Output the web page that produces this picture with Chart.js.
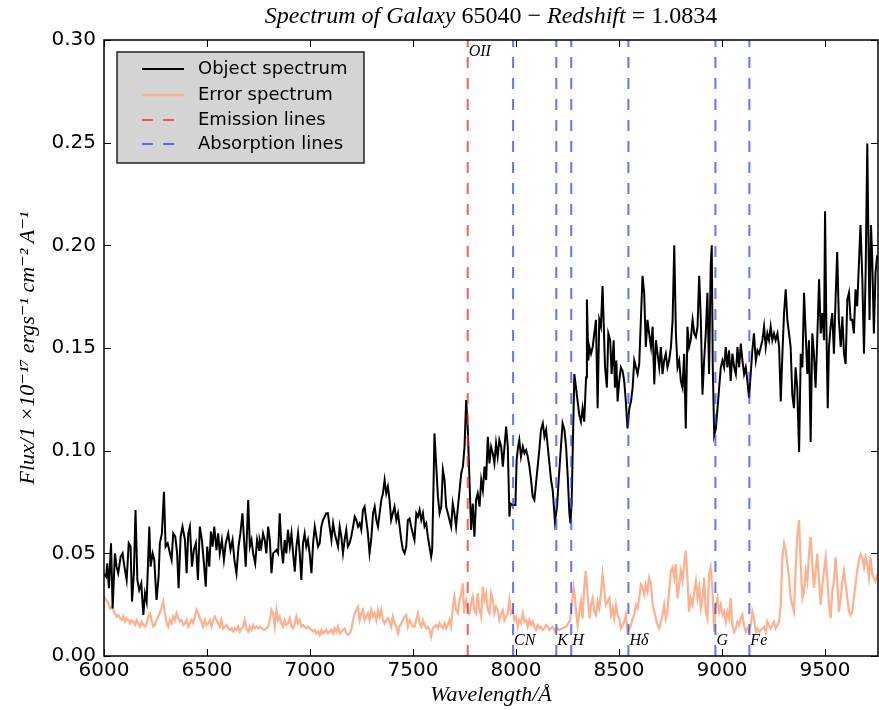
<!DOCTYPE html>
<html lang="en">
<head>
    <meta charset="UTF-8">
    <title>Spectrum of Galaxy 65040</title>
    <script src="https://cdn.jsdelivr.net/npm/chart.js"></script>
    <style>
        html, body { margin: 0; padding: 0; background: #fff; }
        canvas { display: block; }
    </style>
</head>
<body>
    <canvas id="spectrumChart" width="879" height="710"></canvas>

    <script>
        // object spectrum (wavelength in Angstrom, flux in 1e-17 erg/s/cm2/A)
        const objWave = [
            6000, 6010, 6016, 6024, 6034, 6042, 6053, 6061, 6069, 6081,
            6090, 6099, 6110, 6120, 6129, 6136, 6145, 6153, 6162, 6171,
            6181, 6191, 6199, 6207, 6220, 6226, 6236, 6244, 6255, 6265,
            6271, 6281, 6291, 6299, 6309, 6320, 6328, 6336, 6346, 6355,
            6362, 6372, 6381, 6393, 6401, 6409, 6417, 6427, 6436, 6446,
            6456, 6465, 6475, 6485, 6494, 6501, 6511, 6519, 6527, 6535,
            6546, 6554, 6562, 6572, 6582, 6591, 6603, 6614, 6624, 6633,
            6643, 6653, 6662, 6672, 6679, 6688, 6700, 6708, 6716, 6724,
            6734, 6743, 6753, 6756, 6764, 6772, 6780, 6788, 6797, 6805,
            6813, 6821, 6829, 6837, 6845, 6853, 6861, 6869, 6877, 6885,
            6893, 6902, 6910, 6918, 6926, 6934, 6942, 6950, 6958, 6966,
            6974, 6982, 6990, 6998, 7007, 7015, 7023, 7031, 7039, 7047,
            7055, 7063, 7071, 7079, 7087, 7095, 7104, 7112, 7120, 7128,
            7136, 7144, 7152, 7160, 7168, 7176, 7184, 7192, 7200, 7209,
            7217, 7225, 7233, 7241, 7249, 7257, 7265, 7273, 7281, 7289,
            7297, 7306, 7314, 7322, 7330, 7338, 7346, 7354, 7362, 7370,
            7378, 7386, 7394, 7402, 7410, 7419, 7427, 7435, 7443, 7451,
            7459, 7467, 7475, 7483, 7491, 7499, 7507, 7516, 7524, 7532,
            7540, 7548, 7556, 7564, 7572, 7580, 7588, 7593, 7600, 7604,
            7612, 7621, 7629, 7637, 7645, 7653, 7661, 7669, 7677, 7685,
            7693, 7701, 7709, 7718, 7726, 7734, 7742, 7750, 7758, 7766,
            7774, 7782, 7790, 7798, 7806, 7814, 7823, 7831, 7839, 7847,
            7855, 7863, 7871, 7879, 7887, 7895, 7903, 7911, 7919, 7928,
            7936, 7944, 7952, 7960, 7968, 7973, 7981, 7997, 8003, 8010,
            8016, 8024, 8033, 8041, 8049, 8057, 8065, 8073, 8081, 8089,
            8097, 8105, 8113, 8121, 8130, 8138, 8146, 8154, 8162, 8170,
            8178, 8189, 8199, 8207, 8218, 8226, 8235, 8243, 8251, 8259,
            8264, 8270, 8275, 8283, 8291, 8299, 8307, 8315, 8323, 8331,
            8340, 8344, 8351, 8356, 8364, 8372, 8380, 8388, 8396, 8404,
            8412, 8420, 8425, 8432, 8441, 8448, 8457, 8464, 8474, 8480,
            8487, 8493, 8501, 8509, 8517, 8525, 8533, 8541, 8550, 8558,
            8566, 8574, 8582, 8590, 8598, 8606, 8614, 8622, 8630, 8638,
            8646, 8655, 8663, 8671, 8679, 8687, 8695, 8703, 8711, 8719,
            8727, 8735, 8743, 8752, 8760, 8768, 8776, 8784, 8792, 8800,
            8808, 8816, 8824, 8832, 8840, 8848, 8857, 8865, 8873, 8881,
            8889, 8897, 8905, 8913, 8921, 8929, 8937, 8945, 8950, 8955,
            8962, 8970, 8978, 8986, 8994, 9002, 9010, 9018, 9026, 9034,
            9042, 9050, 9059, 9067, 9075, 9083, 9091, 9099, 9107, 9115,
            9123, 9131, 9139, 9147, 9155, 9164, 9172, 9180, 9188, 9196,
            9204, 9212, 9220, 9228, 9236, 9244, 9252, 9260, 9269, 9277,
            9285, 9293, 9301, 9309, 9317, 9325, 9333, 9341, 9349, 9357,
            9365, 9374, 9382, 9390, 9398, 9406, 9414, 9422, 9430, 9438,
            9446, 9454, 9462, 9471, 9479, 9487, 9495, 9500, 9506, 9513,
            9519, 9527, 9535, 9543, 9551, 9559, 9567, 9576, 9584, 9592,
            9600, 9608, 9616, 9624, 9632, 9640, 9648, 9656, 9664, 9672,
            9681, 9689, 9697, 9705, 9710, 9716, 9723, 9729, 9737, 9745,
            9753
        ];
        const objFlux = [
            0.0400, 0.0386, 0.0451, 0.0330, 0.0549, 0.0232, 0.0500, 0.0435, 0.0403, 0.0484,
            0.0500, 0.0435, 0.0370, 0.0549, 0.0533, 0.0265, 0.0403, 0.0711, 0.0370, 0.0321,
            0.0354, 0.0200, 0.0305, 0.0265, 0.0630, 0.0435, 0.0500, 0.0468, 0.0273, 0.0386,
            0.0549, 0.0597, 0.0800, 0.0533, 0.0549, 0.0500, 0.0468, 0.0597, 0.0581, 0.0500,
            0.0330, 0.0581, 0.0630, 0.0565, 0.0403, 0.0597, 0.0630, 0.0435, 0.0516, 0.0549,
            0.0370, 0.0630, 0.0565, 0.0451, 0.0338, 0.0533, 0.0435, 0.0606, 0.0533, 0.0630,
            0.0516, 0.0597, 0.0500, 0.0565, 0.0468, 0.0549, 0.0597, 0.0516, 0.0565, 0.0468,
            0.0403, 0.0533, 0.0597, 0.0695, 0.0581, 0.0435, 0.0760, 0.0533, 0.0565, 0.0500,
            0.0451, 0.0565, 0.0516, 0.0565, 0.0533, 0.0597, 0.0565, 0.0500, 0.0630, 0.0565,
            0.0403, 0.0500, 0.0508, 0.0516, 0.0500, 0.0695, 0.0533, 0.0451, 0.0565, 0.0500,
            0.0614, 0.0533, 0.0597, 0.0500, 0.0411, 0.0533, 0.0597, 0.0500, 0.0370, 0.0549,
            0.0597, 0.0533, 0.0565, 0.0500, 0.0403, 0.0549, 0.0630, 0.0581, 0.0533, 0.0549,
            0.0630, 0.0662, 0.0679, 0.0695, 0.0695, 0.0630, 0.0565, 0.0646, 0.0597, 0.0565,
            0.0533, 0.0630, 0.0581, 0.0500, 0.0565, 0.0614, 0.0533, 0.0549, 0.0581, 0.0630,
            0.0679, 0.0662, 0.0630, 0.0646, 0.0614, 0.0711, 0.0727, 0.0662, 0.0597, 0.0500,
            0.0565, 0.0695, 0.0727, 0.0662, 0.0630, 0.0695, 0.0760, 0.0792, 0.0857, 0.0792,
            0.0825, 0.0760, 0.0662, 0.0695, 0.0727, 0.0662, 0.0695, 0.0630, 0.0565, 0.0516,
            0.0500, 0.0533, 0.0662, 0.0670, 0.0630, 0.0597, 0.0565, 0.0695, 0.0679, 0.0711,
            0.0662, 0.0695, 0.0630, 0.0646, 0.0581, 0.0533, 0.0484, 0.0516, 0.0857, 0.1084,
            0.0938, 0.0776, 0.0695, 0.0727, 0.0906, 0.0857, 0.0727, 0.0695, 0.0662, 0.0630,
            0.0743, 0.0695, 0.0630, 0.0727, 0.0808, 0.0890, 0.0922, 0.1019, 0.1247, 0.1101,
            0.0857, 0.0614, 0.0743, 0.0581, 0.0760, 0.0792, 0.0727, 0.0857, 0.0808, 0.0922,
            0.0857, 0.1068, 0.0938, 0.1019, 0.0987, 0.0938, 0.1036, 0.0971, 0.1052, 0.1019,
            0.0922, 0.1019, 0.1117, 0.1019, 0.0679, 0.0743, 0.0735, 0.0735, 0.0954, 0.1019,
            0.1052, 0.0971, 0.1019, 0.0987, 0.1003, 0.0971, 0.0922, 0.0857, 0.0776, 0.0760,
            0.0841, 0.0922, 0.1003, 0.1101, 0.1133, 0.1068, 0.1101, 0.1019, 0.0938, 0.0857,
            0.0808, 0.0654, 0.0727, 0.0857, 0.1019, 0.1133, 0.1101, 0.1019, 0.0873, 0.0695,
            0.0646, 0.0745, 0.0993, 0.1373, 0.1307, 0.1240, 0.1174, 0.1141, 0.1207, 0.1141,
            0.1356, 0.1736, 0.1439, 0.1505, 0.1472, 0.1505, 0.1571, 0.1637, 0.1207, 0.1637,
            0.1604, 0.1802, 0.1637, 0.1406, 0.1307, 0.1571, 0.1538, 0.1373, 0.1538, 0.1307,
            0.1439, 0.1240, 0.1340, 0.1406, 0.1389, 0.1340, 0.1240, 0.1108, 0.1207, 0.1240,
            0.1307, 0.1439, 0.1406, 0.1373, 0.1422, 0.1637, 0.1852, 0.1769, 0.1505, 0.1637,
            0.1571, 0.1505, 0.1604, 0.1323, 0.1538, 0.1472, 0.1406, 0.1505, 0.1373, 0.1439,
            0.1472, 0.1406, 0.1439, 0.1505, 0.1637, 0.2000, 0.1571, 0.1406, 0.1439, 0.1340,
            0.1307, 0.1472, 0.1108, 0.1604, 0.1505, 0.1538, 0.1637, 0.1571, 0.1554, 0.1604,
            0.1852, 0.1637, 0.1273, 0.1439, 0.1571, 0.1769, 0.1373, 0.1901, 0.2000, 0.1406,
            0.1075, 0.1108, 0.1207, 0.1307, 0.1406, 0.1439, 0.1406, 0.1505, 0.1406, 0.1488,
            0.1340, 0.1472, 0.1406, 0.1373, 0.1505, 0.1406, 0.1521, 0.1439, 0.1373, 0.1406,
            0.1340, 0.1257, 0.1373, 0.1488, 0.1571, 0.1439, 0.1488, 0.1472, 0.1505, 0.1538,
            0.1604, 0.1505, 0.1571, 0.1538, 0.1604, 0.1538, 0.1571, 0.1538, 0.1571, 0.1505,
            0.1240, 0.1472, 0.1670, 0.1786, 0.1637, 0.1571, 0.1505, 0.1273, 0.1207, 0.1406,
            0.1307, 0.0993, 0.1472, 0.1406, 0.1769, 0.1571, 0.1373, 0.1538, 0.1042, 0.1571,
            0.1472, 0.1307, 0.1538, 0.1835, 0.1571, 0.1670, 0.1538, 0.2166, 0.1637, 0.1207,
            0.1505, 0.1604, 0.1670, 0.1472, 0.1736, 0.1967, 0.1637, 0.1505, 0.1653, 0.1472,
            0.1422, 0.1736, 0.1769, 0.1637, 0.1637, 0.1571, 0.1786, 0.1703, 0.1901, 0.2099,
            0.1835, 0.1472, 0.1868, 0.2496, 0.2066, 0.1637, 0.2099, 0.1934, 0.1571, 0.1868,
            0.1951
        ];

        // error spectrum
        const errWave = [
            6000, 6010, 6021, 6029, 6037, 6045, 6053, 6061, 6069, 6078,
            6086, 6094, 6102, 6110, 6118, 6126, 6134, 6142, 6150, 6158,
            6166, 6174, 6183, 6191, 6199, 6207, 6215, 6223, 6231, 6239,
            6247, 6255, 6263, 6271, 6280, 6288, 6296, 6304, 6312, 6320,
            6328, 6336, 6344, 6352, 6360, 6368, 6376, 6385, 6393, 6401,
            6409, 6417, 6425, 6433, 6441, 6449, 6457, 6465, 6473, 6481,
            6490, 6498, 6506, 6514, 6522, 6530, 6538, 6546, 6554, 6562,
            6570, 6578, 6586, 6595, 6603, 6611, 6619, 6627, 6635, 6643,
            6651, 6659, 6667, 6675, 6683, 6691, 6700, 6708, 6716, 6724,
            6732, 6740, 6748, 6756, 6764, 6780, 6797, 6805, 6813, 6821,
            6829, 6837, 6845, 6853, 6861, 6869, 6877, 6885, 6893, 6902,
            6910, 6918, 6926, 6934, 6942, 6950, 6958, 6966, 6974, 6982,
            6990, 6998, 7007, 7015, 7023, 7031, 7039, 7047, 7055, 7063,
            7071, 7079, 7087, 7095, 7104, 7112, 7120, 7128, 7136, 7144,
            7152, 7160, 7168, 7176, 7184, 7192, 7200, 7209, 7217, 7225,
            7233, 7241, 7249, 7257, 7265, 7273, 7281, 7289, 7297, 7306,
            7314, 7322, 7330, 7338, 7346, 7354, 7362, 7370, 7378, 7386,
            7394, 7402, 7410, 7419, 7427, 7435, 7443, 7451, 7459, 7467,
            7475, 7483, 7491, 7499, 7507, 7524, 7532, 7540, 7548, 7556,
            7564, 7572, 7580, 7588, 7596, 7604, 7612, 7621, 7629, 7637,
            7645, 7653, 7661, 7669, 7677, 7685, 7693, 7701, 7709, 7718,
            7726, 7734, 7742, 7747, 7750, 7758, 7766, 7774, 7782, 7790,
            7798, 7806, 7814, 7823, 7831, 7839, 7847, 7855, 7863, 7871,
            7879, 7887, 7895, 7903, 7911, 7919, 7928, 7936, 7944, 7952,
            7960, 7968, 7976, 7984, 7992, 8000, 8008, 8016, 8024, 8033,
            8041, 8049, 8057, 8065, 8073, 8081, 8089, 8097, 8105, 8113,
            8121, 8130, 8138, 8146, 8154, 8162, 8170, 8178, 8189, 8202,
            8210, 8226, 8243, 8259, 8264, 8270, 8280, 8286, 8293, 8299,
            8307, 8315, 8323, 8331, 8338, 8344, 8351, 8357, 8364, 8372,
            8380, 8388, 8396, 8404, 8412, 8420, 8428, 8436, 8445, 8453,
            8461, 8469, 8477, 8485, 8493, 8501, 8509, 8517, 8525, 8533,
            8541, 8550, 8558, 8566, 8574, 8582, 8590, 8598, 8606, 8614,
            8622, 8630, 8638, 8646, 8655, 8663, 8671, 8679, 8687, 8695,
            8703, 8711, 8719, 8727, 8735, 8743, 8752, 8760, 8768, 8776,
            8784, 8792, 8800, 8808, 8816, 8824, 8832, 8840, 8848, 8857,
            8865, 8873, 8881, 8889, 8897, 8905, 8913, 8921, 8929, 8937,
            8945, 8953, 8962, 8970, 8978, 8986, 8994, 9002, 9010, 9018,
            9026, 9034, 9042, 9050, 9059, 9067, 9075, 9083, 9091, 9099,
            9107, 9115, 9123, 9131, 9139, 9147, 9155, 9164, 9172, 9180,
            9188, 9196, 9204, 9212, 9220, 9228, 9236, 9244, 9252, 9260,
            9269, 9277, 9285, 9293, 9301, 9309, 9317, 9325, 9333, 9341,
            9349, 9357, 9365, 9374, 9382, 9390, 9398, 9406, 9414, 9422,
            9430, 9438, 9446, 9454, 9462, 9471, 9479, 9487, 9495, 9503,
            9511, 9519, 9527, 9535, 9543, 9551, 9559, 9567, 9576, 9584,
            9592, 9600, 9608, 9616, 9624, 9632, 9640, 9648, 9656, 9664,
            9672, 9681, 9689, 9697, 9705, 9713, 9721, 9729, 9737, 9745,
            9753
        ];
        const errFlux = [
            0.0289, 0.0273, 0.0257, 0.0232, 0.0240, 0.0224, 0.0208, 0.0192, 0.0200, 0.0184,
            0.0175, 0.0192, 0.0167, 0.0184, 0.0175, 0.0159, 0.0175, 0.0167, 0.0151, 0.0175,
            0.0159, 0.0143, 0.0167, 0.0151, 0.0143, 0.0159, 0.0192, 0.0208, 0.0175, 0.0143,
            0.0151, 0.0175, 0.0192, 0.0208, 0.0240, 0.0265, 0.0208, 0.0159, 0.0143, 0.0175,
            0.0159, 0.0192, 0.0175, 0.0208, 0.0184, 0.0167, 0.0175, 0.0151, 0.0159, 0.0175,
            0.0143, 0.0159, 0.0175, 0.0159, 0.0192, 0.0224, 0.0208, 0.0184, 0.0167, 0.0143,
            0.0175, 0.0151, 0.0159, 0.0175, 0.0143, 0.0175, 0.0192, 0.0175, 0.0159, 0.0143,
            0.0175, 0.0135, 0.0143, 0.0151, 0.0135, 0.0127, 0.0135, 0.0119, 0.0135, 0.0127,
            0.0143, 0.0119, 0.0135, 0.0143, 0.0175, 0.0135, 0.0119, 0.0143, 0.0127, 0.0151,
            0.0135, 0.0143, 0.0135, 0.0143, 0.0135, 0.0127, 0.0143, 0.0175, 0.0224, 0.0208,
            0.0143, 0.0224, 0.0175, 0.0192, 0.0159, 0.0143, 0.0175, 0.0151, 0.0159, 0.0184,
            0.0143, 0.0135, 0.0159, 0.0192, 0.0159, 0.0175, 0.0143, 0.0151, 0.0143, 0.0135,
            0.0143, 0.0135, 0.0127, 0.0119, 0.0127, 0.0110, 0.0119, 0.0102, 0.0127, 0.0110,
            0.0119, 0.0127, 0.0110, 0.0119, 0.0127, 0.0110, 0.0135, 0.0119, 0.0143, 0.0110,
            0.0119, 0.0127, 0.0135, 0.0110, 0.0102, 0.0110, 0.0127, 0.0175, 0.0208, 0.0224,
            0.0240, 0.0175, 0.0208, 0.0224, 0.0175, 0.0192, 0.0208, 0.0175, 0.0224, 0.0192,
            0.0208, 0.0175, 0.0224, 0.0192, 0.0224, 0.0175, 0.0159, 0.0175, 0.0184, 0.0167,
            0.0143, 0.0192, 0.0159, 0.0143, 0.0110, 0.0143, 0.0159, 0.0175, 0.0192, 0.0200,
            0.0143, 0.0175, 0.0159, 0.0143, 0.0143, 0.0208, 0.0159, 0.0143, 0.0175, 0.0151,
            0.0135, 0.0143, 0.0127, 0.0094, 0.0135, 0.0143, 0.0151, 0.0135, 0.0159, 0.0143,
            0.0135, 0.0159, 0.0135, 0.0151, 0.0175, 0.0143, 0.0240, 0.0289, 0.0224, 0.0208,
            0.0273, 0.0305, 0.0354, 0.0208, 0.0240, 0.0273, 0.0224, 0.0208, 0.0257, 0.0289,
            0.0224, 0.0208, 0.0305, 0.0224, 0.0192, 0.0338, 0.0273, 0.0305, 0.0224, 0.0208,
            0.0305, 0.0273, 0.0208, 0.0240, 0.0224, 0.0175, 0.0208, 0.0224, 0.0175, 0.0192,
            0.0208, 0.0273, 0.0208, 0.0224, 0.0175, 0.0192, 0.0143, 0.0175, 0.0159, 0.0208,
            0.0167, 0.0175, 0.0143, 0.0175, 0.0151, 0.0167, 0.0143, 0.0127, 0.0151, 0.0135,
            0.0143, 0.0127, 0.0135, 0.0151, 0.0143, 0.0127, 0.0135, 0.0143, 0.0119, 0.0135,
            0.0127, 0.0135, 0.0143, 0.0167, 0.0183, 0.0249, 0.0332, 0.0282, 0.0200, 0.0150,
            0.0216, 0.0266, 0.0183, 0.0332, 0.0414, 0.0348, 0.0249, 0.0183, 0.0249, 0.0282,
            0.0216, 0.0200, 0.0266, 0.0233, 0.0299, 0.0398, 0.0332, 0.0249, 0.0266, 0.0282,
            0.0200, 0.0233, 0.0183, 0.0249, 0.0200, 0.0183, 0.0134, 0.0150, 0.0167, 0.0200,
            0.0117, 0.0134, 0.0150, 0.0183, 0.0200, 0.0249, 0.0233, 0.0282, 0.0348, 0.0332,
            0.0299, 0.0348, 0.0315, 0.0381, 0.0348, 0.0249, 0.0216, 0.0183, 0.0150, 0.0134,
            0.0167, 0.0200, 0.0249, 0.0183, 0.0216, 0.0315, 0.0414, 0.0431, 0.0381, 0.0447,
            0.0282, 0.0348, 0.0414, 0.0365, 0.0447, 0.0514, 0.0381, 0.0216, 0.0282, 0.0249,
            0.0315, 0.0365, 0.0282, 0.0332, 0.0233, 0.0282, 0.0381, 0.0216, 0.0183, 0.0398,
            0.0431, 0.0332, 0.0117, 0.0249, 0.0282, 0.0216, 0.0249, 0.0200, 0.0216, 0.0167,
            0.0216, 0.0183, 0.0282, 0.0150, 0.0117, 0.0134, 0.0167, 0.0150, 0.0183, 0.0200,
            0.0150, 0.0117, 0.0134, 0.0117, 0.0150, 0.0216, 0.0183, 0.0117, 0.0134, 0.0117,
            0.0125, 0.0134, 0.0142, 0.0117, 0.0167, 0.0150, 0.0134, 0.0150, 0.0167, 0.0134,
            0.0150, 0.0167, 0.0249, 0.0480, 0.0547, 0.0514, 0.0447, 0.0381, 0.0282, 0.0249,
            0.0216, 0.0414, 0.0580, 0.0662, 0.0447, 0.0282, 0.0315, 0.0414, 0.0365, 0.0497,
            0.0580, 0.0447, 0.0332, 0.0414, 0.0497, 0.0365, 0.0249, 0.0348, 0.0414, 0.0480,
            0.0381, 0.0249, 0.0183, 0.0315, 0.0365, 0.0480, 0.0365, 0.0216, 0.0282, 0.0365,
            0.0414, 0.0348, 0.0282, 0.0216, 0.0200, 0.0216, 0.0282, 0.0348, 0.0414, 0.0464,
            0.0497, 0.0480, 0.0431, 0.0480, 0.0447, 0.0381, 0.0480, 0.0398, 0.0381, 0.0365,
            0.0398
        ];

        // redshifted line positions: emission OII, absorption CN K H Hd G Fe
        const redshift = 1.0834;
        const emissionNames = ['OII'];
        const emissionRest = [3727.3];
        const absorptionNames = ['CN', 'K', 'H', 'H\u03b4', 'G', 'Fe'];
        const absorptionRest = [3833, 3933.7, 3968.5, 4101.7, 4304.4, 4383.5];

        const xTickValues = [6000, 6500, 7000, 7500, 8000, 8500, 9000, 9500];
        const yTickValues = [0.00, 0.05, 0.10, 0.15, 0.20, 0.25, 0.30];
        const xMin = 6000, xMax = 9757, yMin = 0, yMax = 0.30;

        const legendItems = ['Object spectrum', 'Error spectrum', 'Emission lines', 'Absorption lines'];
        // title pieces: [text, italic]
        const titleParts = [['Spectrum of Galaxy ', true], ['65040 \u2212 ', false], ['Redshift', true], [' = 1.0834', false]];

        const toPoints = (xs, ys) => xs.map((v, i) => ({ x: v, y: ys[i] }));
        const emissionObs = emissionRest.map(w => w * (1 + redshift));
        const absorptionObs = absorptionRest.map(w => w * (1 + redshift));
        const vlines = ws => ws.flatMap(w => [{ x: w, y: yMin }, { x: w, y: yMax }, { x: w, y: null }]);

        const BLACK = '#000000';
        const ERR_COLOR = '#ffb08e';
        const EM_COLOR = 'rgba(255, 40, 40, 0.75)';
        const ABS_COLOR = 'rgba(30, 60, 255, 0.7)';
        const DASH = [11, 10];
        const SERIF = "'Liberation Serif', 'DejaVu Serif', serif";
        const SANS = "'DejaVu Sans', sans-serif";

        const decor = {
            id: 'decor',
            afterDatasetsDraw(chart) {
                const { ctx, chartArea: a, scales: { x, y } } = chart;
                ctx.save();

                // inward ticks on all sides
                ctx.strokeStyle = BLACK;
                ctx.lineWidth = 1;
                ctx.beginPath();
                x.ticks.forEach(t => {
                    const px = Math.round(x.getPixelForValue(t.value)) + 0.5;
                    ctx.moveTo(px, a.bottom); ctx.lineTo(px, a.bottom - 7);
                    ctx.moveTo(px, a.top); ctx.lineTo(px, a.top + 7);
                });
                y.ticks.forEach(t => {
                    const py = Math.round(y.getPixelForValue(t.value)) + 0.5;
                    ctx.moveTo(a.left, py); ctx.lineTo(a.left + 7, py);
                    ctx.moveTo(a.right, py); ctx.lineTo(a.right - 7, py);
                });
                ctx.stroke();

                // axes frame
                ctx.lineWidth = 1.5;
                ctx.strokeRect(a.left, a.top, a.width, a.height);

                // title, centred over the plot area
                ctx.fillStyle = BLACK;
                ctx.textBaseline = 'middle';
                ctx.textAlign = 'left';
                const tFont = it => (it ? 'italic ' : '') + '24px ' + SERIF;
                let tw = 0;
                titleParts.forEach(([s, it]) => { ctx.font = tFont(it); tw += ctx.measureText(s).width; });
                let tx = (a.left + a.right) / 2 - tw / 2;
                titleParts.forEach(([s, it]) => {
                    ctx.font = tFont(it);
                    ctx.fillText(s, tx, 17);
                    tx += ctx.measureText(s).width;
                });

                // line names
                ctx.font = 'italic 16px ' + SERIF;
                emissionObs.forEach((w, i) => {
                    ctx.fillText(emissionNames[i], x.getPixelForValue(w) + 1, a.top + 12);
                });
                absorptionObs.forEach((w, i) => {
                    ctx.fillText(absorptionNames[i], x.getPixelForValue(w) + 1, a.bottom - 15);
                });

                // legend box
                const lx = a.left + 13, ly = a.top + 12, lw = 247, lh = 111;
                ctx.fillStyle = '#d4d4d4';
                ctx.fillRect(lx, ly, lw, lh);
                ctx.strokeStyle = '#222';
                ctx.lineWidth = 1.5;
                ctx.strokeRect(lx, ly, lw, lh);
                const styles = [
                    { c: BLACK, w: 2, d: [] },
                    { c: ERR_COLOR, w: 2.5, d: [] },
                    { c: EM_COLOR, w: 2, d: DASH },
                    { c: ABS_COLOR, w: 2, d: DASH }
                ];
                const rowY = [17, 43, 68, 92];
                ctx.font = '18px ' + SANS;
                legendItems.forEach((label, i) => {
                    const ry = ly + rowY[i];
                    ctx.strokeStyle = styles[i].c;
                    ctx.lineWidth = styles[i].w;
                    ctx.setLineDash(styles[i].d);
                    ctx.beginPath();
                    ctx.moveTo(lx + 25, ry);
                    ctx.lineTo(lx + 67, ry);
                    ctx.stroke();
                    ctx.setLineDash([]);
                    ctx.fillStyle = BLACK;
                    ctx.fillText(label, lx + 81, ry);
                });
                ctx.restore();
            }
        };

        const ctx = document.getElementById('spectrumChart').getContext('2d');
        new Chart(ctx, {
            type: 'line',
            data: {
                datasets: [
                    {
                        label: 'Emission lines',
                        data: vlines(emissionObs),
                        borderColor: EM_COLOR,
                        borderWidth: 2,
                        borderDash: DASH,
                        spanGaps: false
                    },
                    {
                        label: 'Absorption lines',
                        data: vlines(absorptionObs),
                        borderColor: ABS_COLOR,
                        borderWidth: 2,
                        borderDash: DASH,
                        spanGaps: false
                    },
                    {
                        label: 'Object spectrum',
                        data: toPoints(objWave, objFlux),
                        borderColor: BLACK,
                        borderWidth: 2
                    },
                    {
                        label: 'Error spectrum',
                        data: toPoints(errWave, errFlux),
                        borderColor: ERR_COLOR,
                        borderWidth: 2.2
                    }
                ]
            },
            options: {
                responsive: false,
                animation: false,
                devicePixelRatio: 1,
                elements: { point: { radius: 0 }, line: { tension: 0, fill: false } },
                layout: { padding: { top: 40, right: 1, bottom: 0, left: 0 } },
                plugins: {
                    legend: { display: false },
                    tooltip: { enabled: false },
                    title: { display: false }
                },
                scales: {
                    x: {
                        type: 'linear',
                        min: xMin,
                        max: xMax,
                        afterBuildTicks: s => { s.ticks = xTickValues.map(v => ({ value: v })); },
                        afterFit: s => { s.height = 54; },
                        grid: { display: false },
                        border: { display: false },
                        ticks: {
                            color: BLACK,
                            padding: -5,
                            maxRotation: 0,
                            font: { family: SANS, size: 20 },
                            callback: v => String(v)
                        },
                        title: {
                            display: true,
                            text: 'Wavelength/\u00c5',
                            color: BLACK,
                            font: { family: SERIF, size: 22, style: 'italic', lineHeight: 1.2 },
                            padding: { top: 0, bottom: 1.8 }
                        }
                    },
                    y: {
                        type: 'linear',
                        min: yMin,
                        max: yMax,
                        afterBuildTicks: s => { s.ticks = yTickValues.map(v => ({ value: v })); },
                        afterFit: s => { s.width = 104; },
                        grid: { display: false },
                        border: { display: false },
                        ticks: {
                            color: BLACK,
                            padding: 0,
                            font: { family: SANS, size: 20 },
                            callback: v => v.toFixed(2)
                        },
                        title: {
                            display: true,
                            text: 'Flux/1 \u00d710\u207b\u00b9\u2077 ergs\u207b\u00b9 cm\u207b\u00b2 A\u207b\u00b9',
                            color: BLACK,
                            font: { family: SERIF, size: 22, style: 'italic', lineHeight: 1.2 },
                            padding: { top: 15, bottom: 0 }
                        }
                    }
                }
            },
            plugins: [decor]
        });
    </script>
</body>
</html>
